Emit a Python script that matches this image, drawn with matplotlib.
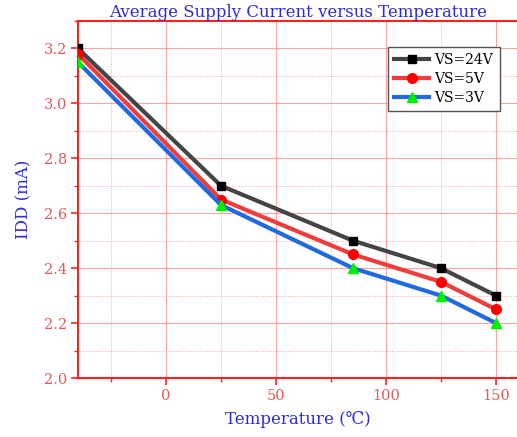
import numpy as np
import matplotlib
matplotlib.use("Agg")
from matplotlib import pyplot as plt
from matplotlib.ticker import MultipleLocator, FormatStrFormatter

# data
temps = [-40, 25, 85, 125, 150]
idd_24v = [3.20, 2.70, 2.50, 2.40, 2.30]
idd_5v = [3.18, 2.65, 2.45, 2.35, 2.25]
idd_3v = [3.15, 2.63, 2.40, 2.30, 2.20]

fnt = ['DejaVu Serif', 'DejaVu Sans']
plt.rcParams['font.family'] = fnt
tickcol = '#e05a5a'
labcol = '#2b2bd8'
gridcol = '#ff8c8c'

fig = plt.figure(figsize=(5.17, 4.37), dpi=100)
ax = fig.add_axes([78/517, 59/437, 440/517, 357/437])

ax.plot(temps, idd_24v, color='#444444', lw=3, marker='s', ms=6,
        mfc='black', mec='black', label='VS=24V', zorder=3)
ax.plot(temps, idd_5v, color='#f03c3c', lw=3, marker='o', ms=7,
        mfc='red', mec='red', label='VS=5V', zorder=3)
ax.plot(temps, idd_3v, color='#1f6ae0', lw=3, marker='^', ms=7,
        mfc='#00ee00', mec='#00ee00', label='VS=3V', zorder=3)

ax.set_xlim(-40, 160)
ax.set_ylim(2.0, 3.3)
ax.xaxis.set_major_locator(MultipleLocator(50))
ax.xaxis.set_minor_locator(MultipleLocator(25))
ax.yaxis.set_major_locator(MultipleLocator(0.2))
ax.yaxis.set_minor_locator(MultipleLocator(0.1))

ax.grid(which='major', color=gridcol, lw=0.8, ls='-', alpha=0.8)
ax.grid(which='minor', color=gridcol, lw=0.7, ls=(0, (1, 1.5)), alpha=0.8)
ax.set_axisbelow(True)

for s in ax.spines.values():
    s.set_color('#ff2020')
    s.set_linewidth(1.5)

ax.tick_params(which='major', direction='out', length=5, width=1.2,
               colors='#ff2020', labelcolor=tickcol, labelsize=10.5, pad=3)
ax.tick_params(which='minor', direction='out', length=3, width=1,
               colors='#ff2020')
ax.yaxis.set_major_formatter(FormatStrFormatter('%.1f'))

ax.set_title('Average Supply Current versus Temperature', color=labcol,
             fontsize=12, pad=1.5)
ax.set_xlabel('Temperature (℃)', color=labcol, fontsize=12, labelpad=6)
ax.set_ylabel('IDD (mA)', color=labcol, fontsize=12, labelpad=8)

leg = ax.legend(loc='upper left', bbox_to_anchor=(310/440, 1 - 26/357),
                borderaxespad=0, fancybox=False, framealpha=1,
                edgecolor='#555555', fontsize=10, handlelength=2.5,
                borderpad=0.45, labelspacing=0.35, handletextpad=0.4)
leg.get_frame().set_linewidth(1)

fig.savefig('out.png', dpi=100)
